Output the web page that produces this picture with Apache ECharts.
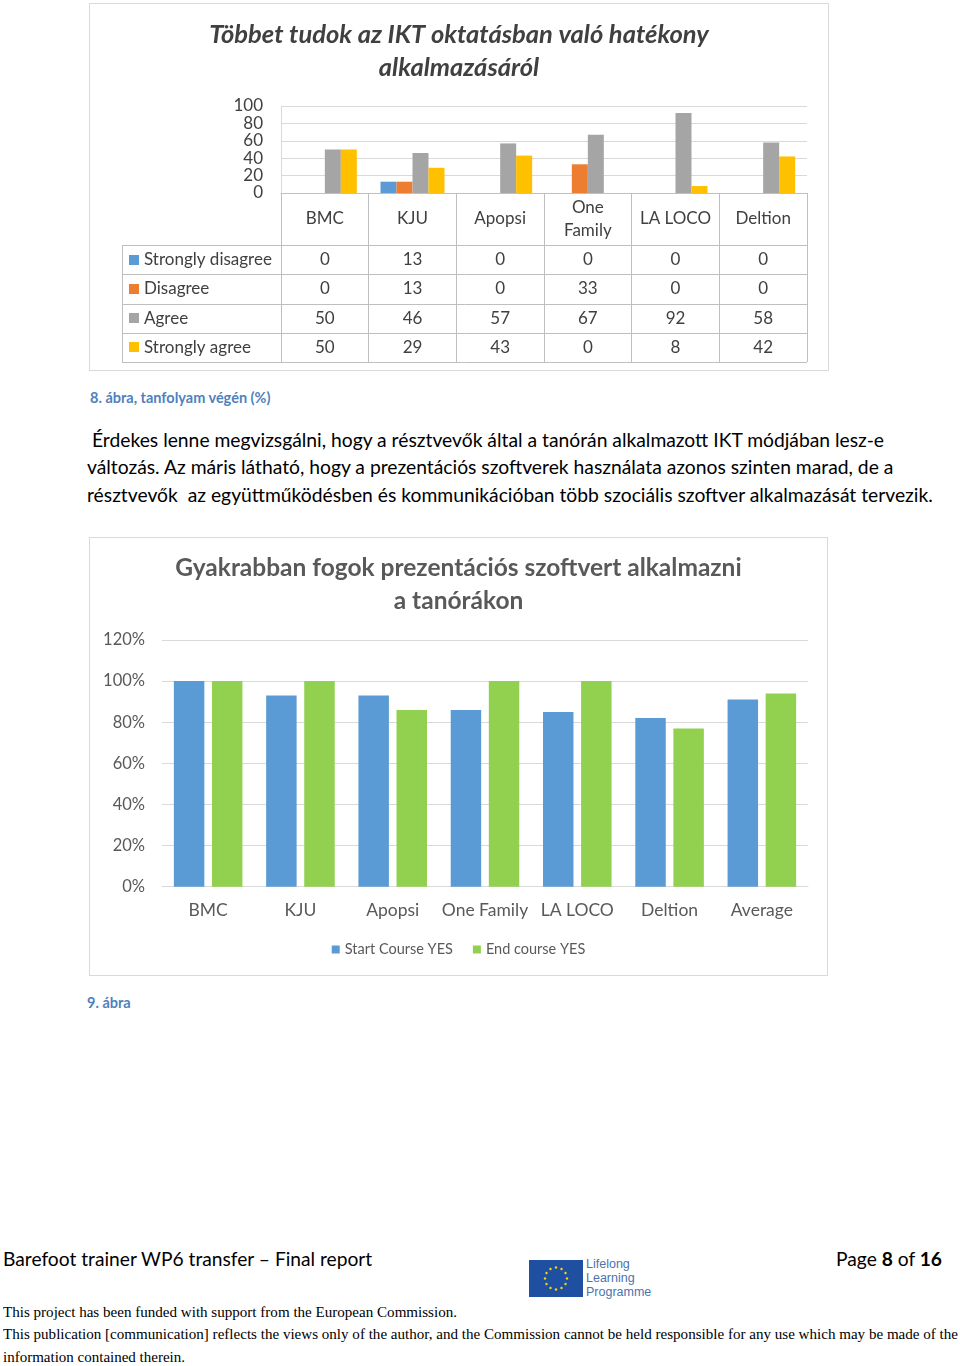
<!DOCTYPE html>
<html><head><meta charset="utf-8">
<script src="https://cdn.jsdelivr.net/npm/echarts/dist/echarts.min.js"></script>
<style>
html,body{margin:0;padding:0;background:#fff;}
body{width:960px;height:1366px;position:relative;overflow:hidden;font-family:Lato,"Open Sans",sans-serif;}
.frame{position:absolute;border:1px solid #d9d9d9;box-sizing:border-box;background:#fff;}
.chart{position:absolute;left:0;top:0;width:100%;height:100%;}
.cap{position:absolute;font-weight:bold;color:#4F81BD;font-size:14.5px;white-space:nowrap;}
.para{position:absolute;left:87px;font-size:19.3px;color:#000;white-space:pre;}
.foot{position:absolute;white-space:nowrap;}
.tnr{position:absolute;left:3px;font-family:"Liberation Serif","Times New Roman",serif;font-size:15px;color:#000;white-space:nowrap;transform-origin:0 0;}
</style>
</head><body>

<div class="frame" style="left:89px;top:3px;width:740px;height:368px;"><div id="c1" class="chart"></div></div>
<div class="cap" style="left:90px;top:389px;">8. ábra, tanfolyam végén (%)</div>
<div class="para" style="top:428px;"> Érdekes lenne megvizsgálni, hogy a résztvevők által a tanórán alkalmazott IKT módjában lesz-e</div>
<div class="para" style="top:455px;">változás. Az máris látható, hogy a prezentációs szoftverek használata azonos szinten marad, de a</div>
<div class="para" style="top:483px;">résztvevők  az együttműködésben és kommunikációban több szociális szoftver alkalmazását tervezik.</div>

<div class="frame" style="left:89px;top:537px;width:739px;height:439px;"><div id="c2" class="chart"></div></div>
<div class="cap" style="left:87px;top:994px;">9. ábra</div>

<div class="foot" style="left:3px;top:1247px;font-size:19.2px;color:#000;">Barefoot trainer WP6 transfer – Final report</div>
<div class="foot" style="right:18px;top:1247px;font-size:19.2px;color:#000;">Page <b>8</b> of <b>16</b></div>
<svg id="flag" style="position:absolute;left:529px;top:1260px;" width="54" height="37"></svg>
<div class="foot" style="left:586px;top:1257px;font-size:12.5px;line-height:14px;color:#4b74ad;font-family:'Liberation Sans',Arial,sans-serif;">Lifelong<br>Learning<br>Programme</div>
<div class="tnr" id="t1" style="top:1304px;">This project has been funded with support from the European Commission.</div>
<div class="tnr" id="t2" style="top:1326px;">This publication [communication] reflects the views only of the author, and the Commission cannot be held responsible for any use which may be made of the</div>
<div class="tnr" id="t3" style="top:1349px;">information contained therein.</div>

<script>
// ---------- Chart 1 data ----------
const categories1 = ['BMC', 'KJU', 'Apopsi', 'One Family', 'LA LOCO', 'Deltion'];
const seriesNames1 = ['Strongly disagree', 'Disagree', 'Agree', 'Strongly agree'];
const stronglyDisagree = [0, 13, 0, 0, 0, 0];
const disagree = [0, 13, 0, 33, 0, 0];
const agree = [50, 46, 57, 67, 92, 58];
const stronglyAgree = [50, 29, 43, 0, 8, 42];
const title1 = 'Többet tudok az IKT oktatásban való hatékony\nalkalmazásáról';

// ---------- Chart 2 data ----------
const categories2 = ['BMC', 'KJU', 'Apopsi', 'One Family', 'LA LOCO', 'Deltion', 'Average'];
const seriesNames2 = ['Start Course YES', 'End course YES'];
const startCourse = [100, 93, 93, 86, 85, 82, 91];
const endCourse = [100, 100, 86, 100, 100, 77, 94];
const title2 = 'Gyakrabban fogok prezentációs szoftvert alkalmazni\na tanórákon';

const colors1 = ['#5B9BD5', '#ED7D31', '#A5A5A5', '#FFC000'];
const colors2 = ['#5B9BD5', '#92D050'];
const values1 = [stronglyDisagree, disagree, agree, stronglyAgree];

// ---------- Chart 1 ----------
const g1 = {left: 191, top: 102, width: 526, height: 87};
const tableTop = 241, rowH = 29.25, tableLeft = 32;
const tableBottom = tableTop + rowH * 4;
const c1 = echarts.init(document.getElementById('c1'), null, {renderer: 'canvas'});
c1.setOption({
  animation: false,
  title: {
    text: title1, left: 'center', top: 9,
    textStyle: {fontFamily: 'Lato', fontSize: 25.5, fontWeight: 'bold', fontStyle: 'italic', color: '#404040', lineHeight: 33}
  },
  grid: g1,
  xAxis: {
    type: 'category', data: categories1,
    axisLine: {lineStyle: {color: '#bfbfbf'}},
    axisTick: {show: true, interval: 0, length: tableBottom - (g1.top + g1.height), lineStyle: {color: '#bfbfbf'}},
    axisLabel: {
      interval: 0,
      fontFamily: 'Lato', fontSize: 17, color: '#404040', margin: 26, verticalAlign: 'middle', lineHeight: 23,
      formatter: v => v === 'One Family' ? 'One\nFamily' : v
    }
  },
  yAxis: {
    type: 'value', min: 0, max: 100, interval: 20,
    axisLine: {show: true, lineStyle: {color: '#d9d9d9'}},
    axisTick: {show: false},
    splitLine: {lineStyle: {color: '#d9d9d9'}},
    axisLabel: {fontFamily: 'Lato', fontSize: 17, color: '#404040', margin: 18}
  },
  series: seriesNames1.map((n, i) => ({
    name: n, type: 'bar', data: values1[i], barGap: 0, barCategoryGap: '27%',
    itemStyle: {color: colors1[i]}
  }))
});
// data table under the axis
(function () {
  const right = g1.left + g1.width;
  const els = [];
  for (let r = 0; r <= 4; r++) {
    const y = Math.round(tableTop + r * rowH) + 0.5;
    els.push({type: 'line', shape: {x1: tableLeft, y1: y, x2: right, y2: y}, style: {stroke: '#bfbfbf', lineWidth: 1}, silent: true});
  }
  els.push({type: 'line', shape: {x1: tableLeft + 0.5, y1: Math.round(tableTop) + 0.5, x2: tableLeft + 0.5, y2: Math.round(tableBottom) + 0.5}, style: {stroke: '#bfbfbf', lineWidth: 1}, silent: true});
  seriesNames1.forEach((n, r) => {
    const cy = tableTop + r * rowH + rowH / 2;
    els.push({type: 'rect', shape: {x: tableLeft + 7, y: Math.round(cy - 5), width: 10, height: 10}, style: {fill: colors1[r]}, silent: true});
    els.push({type: 'text', x: tableLeft + 22, y: cy, style: {text: n, font: '17px Lato', fill: '#404040', textAlign: 'left', textVerticalAlign: 'middle'}, silent: true});
    categories1.forEach((c, i) => {
      const cx = c1.convertToPixel({xAxisIndex: 0}, c);
      els.push({type: 'text', x: cx, y: cy, style: {text: String(values1[r][i]), font: '17px Lato', fill: '#404040', textAlign: 'center', textVerticalAlign: 'middle'}, silent: true});
    });
  });
  c1.setOption({graphic: els});
})();

// ---------- Chart 2 ----------
const c2 = echarts.init(document.getElementById('c2'), null, {renderer: 'canvas'});
c2.setOption({
  animation: false,
  title: {
    text: title2, left: 'center', top: 9,
    textStyle: {fontFamily: 'Lato', fontSize: 24.5, fontWeight: 'bold', color: '#595959', lineHeight: 33}
  },
  legend: {
    data: seriesNames2, left: 'center', top: 399, itemWidth: 8, itemHeight: 8, itemGap: 20,
    icon: 'rect', textStyle: {fontFamily: 'Lato', fontSize: 14.5, color: '#595959'}
  },
  grid: {left: 72, top: 102, width: 646, height: 246.7},
  xAxis: {
    type: 'category', data: categories2,
    axisLine: {lineStyle: {color: '#d9d9d9'}},
    axisTick: {show: false},
    axisLabel: {fontFamily: 'Lato', fontSize: 17.5, color: '#595959', margin: 24, verticalAlign: 'middle', interval: 0}
  },
  yAxis: {
    type: 'value', min: 0, max: 120, interval: 20,
    axisLine: {show: false}, axisTick: {show: false},
    splitLine: {lineStyle: {color: '#d9d9d9'}},
    axisLabel: {fontFamily: 'Lato', fontSize: 16.5, color: '#595959', margin: 17, formatter: '{value}%'}
  },
  series: [
    {name: seriesNames2[0], type: 'bar', data: startCourse, barGap: '25%', barCategoryGap: '25.7%', itemStyle: {color: colors2[0]}},
    {name: seriesNames2[1], type: 'bar', data: endCourse, itemStyle: {color: colors2[1]}}
  ]
});

// ---------- EU flag ----------
(function () {
  const svg = document.getElementById('flag');
  let s = '<rect x="0" y="0" width="54" height="37" fill="#1f4fa0"/>';
  for (let k = 0; k < 12; k++) {
    const a = k * Math.PI / 6;
    s += '<circle cx="' + (27 + 11 * Math.sin(a)).toFixed(1) + '" cy="' + (18.5 - 11 * Math.cos(a)).toFixed(1) + '" r="1.2" fill="#ffd500"/>';
  }
  svg.innerHTML = s;
})();
// fit serif footer lines to reference widths
[['t1', 454], ['t2', 955], ['t3', 182]].forEach(([id, w]) => {
  const el = document.getElementById(id);
  const cw = el.getBoundingClientRect().width;
  el.style.transform = 'scaleX(' + (w / cw) + ')';
});
</script>
</body></html>
